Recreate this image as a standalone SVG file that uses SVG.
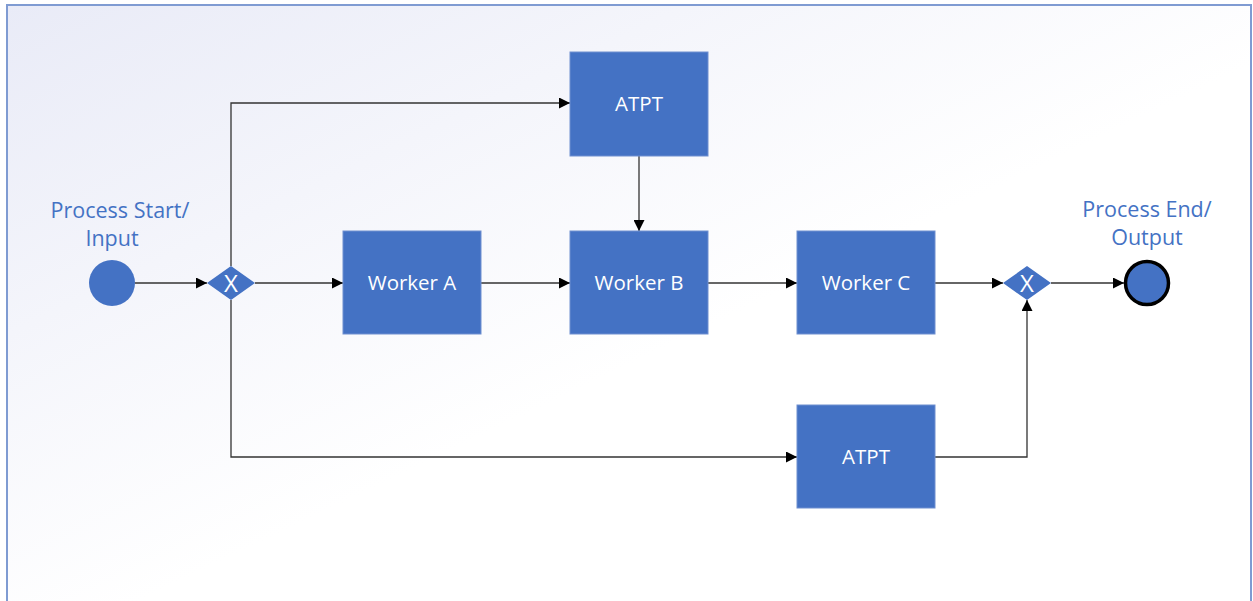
<svg xmlns="http://www.w3.org/2000/svg" width="1253" height="601" viewBox="0 0 1253 601">
  <defs>
    <linearGradient id="bg" x1="0" y1="0" x2="1" y2="1" gradientUnits="objectBoundingBox">
      <stop offset="0" stop-color="#e9ebf7"/>
      <stop offset="0.55" stop-color="#ffffff"/>
      <stop offset="1" stop-color="#ffffff"/>
    </linearGradient>
    <marker id="arrow" viewBox="0 0 10 10" refX="10" refY="5" markerWidth="11" markerHeight="11" markerUnits="userSpaceOnUse" orient="auto">
      <path d="M0,0 L10,5 L0,10 z" fill="#000"/>
    </marker>
  </defs>
  <style>
    .task { fill: #4472c4; stroke: #6f8fd0; stroke-width: 1; }
    .task-label { fill: #ffffff; font-family: "Open Sans", "Liberation Sans", sans-serif; font-size: 20.5px; text-anchor: middle; }
    .gw { fill: #4472c4; }
    .gw-label { fill: #ffffff; font-family: "Open Sans", "Liberation Sans", sans-serif; font-size: 24px; text-anchor: middle; }
    .ev-label { fill: #4472c4; font-family: "Open Sans", "Liberation Sans", sans-serif; font-size: 21.5px; text-anchor: middle; }
    .flow { fill: none; stroke: #333; stroke-width: 1.3; marker-end: url(#arrow); }
  </style>

  <!-- page background and frame -->
  <rect x="7" y="5" width="1244" height="600" fill="url(#bg)" stroke="#7f9bd2" stroke-width="2"/>

  <!-- sequence flows -->
  <g id="connectors">
    <path class="flow" d="M135,283 H207"/>
    <path class="flow" d="M255,283 H343"/>
    <path class="flow" d="M231,266 V103 H570"/>
    <path class="flow" d="M231,300 V457 H797"/>
    <path class="flow" d="M639,156 V231"/>
    <path class="flow" d="M481,283 H570"/>
    <path class="flow" d="M708,283 H797"/>
    <path class="flow" d="M935,283 H1003"/>
    <path class="flow" d="M935,457 H1027 V300"/>
    <path class="flow" d="M1051,283 H1124"/>
  </g>

  <g id="start">
    <circle cx="112" cy="283" r="23" fill="#4472c4"/>
    <text class="ev-label" x="120" y="218">Process Start/</text>
    <text class="ev-label" x="112" y="246">Input</text>
  </g>

  <g id="split">
    <polygon class="gw" points="207,283 231,266 255,283 231,300"/>
    <text class="gw-label" x="231" y="292">X</text>
  </g>

  <g id="atpt-top">
    <rect class="task" x="570" y="52" width="138" height="104"/>
    <text class="task-label" x="639" y="111">ATPT</text>
  </g>

  <g id="worker-a">
    <rect class="task" x="343" y="231" width="138" height="103"/>
    <text class="task-label" x="412" y="290">Worker A</text>
  </g>

  <g id="worker-b">
    <rect class="task" x="570" y="231" width="138" height="103"/>
    <text class="task-label" x="639" y="290">Worker B</text>
  </g>

  <g id="worker-c">
    <rect class="task" x="797" y="231" width="138" height="103"/>
    <text class="task-label" x="866" y="290">Worker C</text>
  </g>

  <g id="atpt-bottom">
    <rect class="task" x="797" y="405" width="138" height="103"/>
    <text class="task-label" x="866" y="464">ATPT</text>
  </g>

  <g id="join">
    <polygon class="gw" points="1003,283 1027,266 1051,283 1027,300"/>
    <text class="gw-label" x="1027" y="292">X</text>
  </g>

  <g id="end">
    <circle cx="1147" cy="283" r="21.5" fill="#4472c4" stroke="#000" stroke-width="3.5"/>
    <text class="ev-label" x="1147" y="217">Process End/</text>
    <text class="ev-label" x="1147" y="245">Output</text>
  </g>
</svg>
